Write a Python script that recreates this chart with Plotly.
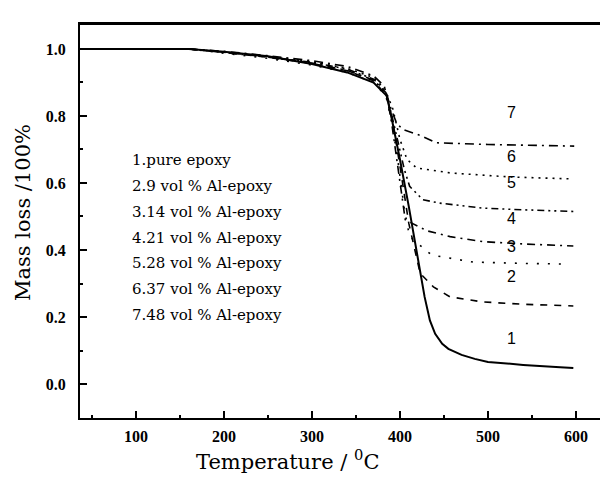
import plotly.graph_objects as go

# ---- data (Temperature in degC, mass fraction) ----
t1 = [36, 100, 160, 200, 250, 300, 340, 370, 385, 390, 395, 400, 410, 420, 428, 434, 440, 448, 455, 470, 485, 500, 540, 582, 597]
m1 = [1.0, 1.0, 1.0, 0.992, 0.978, 0.955, 0.93, 0.90, 0.86, 0.80, 0.74, 0.67, 0.53, 0.38, 0.26, 0.19, 0.15, 0.12, 0.105, 0.087, 0.075, 0.066, 0.057, 0.05, 0.048]

t2 = [160, 200, 250, 300, 340, 370, 385, 392, 400, 410, 423, 438, 457, 494, 540, 597]
m2 = [1.0, 0.99, 0.975, 0.957, 0.935, 0.905, 0.86, 0.78, 0.65, 0.48, 0.33, 0.29, 0.26, 0.245, 0.238, 0.233]

t3 = [160, 200, 250, 300, 340, 370, 384, 391, 398, 405, 411, 436, 483, 540, 590]
m3 = [1.0, 0.988, 0.972, 0.952, 0.93, 0.90, 0.86, 0.78, 0.66, 0.52, 0.44, 0.385, 0.364, 0.36, 0.358]

t4 = [160, 200, 250, 300, 340, 370, 384, 390, 397, 406, 431, 457, 494, 540, 597]
m4 = [1.0, 0.99, 0.976, 0.958, 0.936, 0.907, 0.87, 0.79, 0.66, 0.49, 0.457, 0.44, 0.425, 0.418, 0.412]

t5 = [160, 200, 250, 300, 340, 370, 383, 390, 398, 405, 411, 426, 445, 494, 540, 597]
m5 = [1.0, 0.991, 0.977, 0.96, 0.94, 0.91, 0.875, 0.81, 0.72, 0.64, 0.59, 0.55, 0.54, 0.525, 0.52, 0.515]

t6 = [160, 200, 250, 300, 340, 370, 383, 392, 400, 408, 419, 457, 525, 597]
m6 = [1.0, 0.99, 0.978, 0.962, 0.942, 0.915, 0.88, 0.82, 0.73, 0.67, 0.645, 0.63, 0.618, 0.612]

t7 = [160, 200, 250, 300, 340, 370, 382, 390, 396, 403, 425, 441, 500, 550, 598]
m7 = [1.0, 0.993, 0.98, 0.965, 0.948, 0.92, 0.89, 0.82, 0.78, 0.76, 0.74, 0.72, 0.715, 0.712, 0.71]

curve_labels = ["1", "2", "3", "4", "5", "6", "7"]
label_t = [527, 527, 527, 527, 527, 527, 527]
label_m = [0.137, 0.32, 0.41, 0.495, 0.60, 0.68, 0.81]

legend_lines = [
    "1.pure epoxy",
    "2.9 vol % Al-epoxy",
    "3.14 vol % Al-epoxy",
    "4.21 vol % Al-epoxy",
    "5.28 vol % Al-epoxy",
    "6.37 vol % Al-epoxy",
    "7.48 vol % Al-epoxy",
]
legend_m = [0.669, 0.591, 0.513, 0.436, 0.361, 0.283, 0.206]

x_ticks = [100, 200, 300, 400, 500, 600]
y_ticks = [0.0, 0.2, 0.4, 0.6, 0.8, 1.0]

series = [
    (t1, m1, dict(color="black", width=2, dash="solid")),
    (t2, m2, dict(color="black", width=1.6, dash="7px,7px")),
    (t3, m3, dict(color="black", width=1.6, dash="2px,9px")),
    (t4, m4, dict(color="black", width=1.6, dash="8px,5px,2px,5px")),
    (t5, m5, dict(color="black", width=1.6, dash="7px,4px,2px,4px,2px,4px")),
    (t6, m6, dict(color="black", width=1.6, dash="2px,5px")),
    (t7, m7, dict(color="black", width=1.6, dash="9px,5px,2px,5px")),
]

fig = go.Figure()
for t, m, ln in series:
    fig.add_trace(go.Scatter(x=t, y=m, mode="lines", line=ln, showlegend=False, hoverinfo="skip"))

serif = "Liberation Serif"
wide_serif = "DejaVu Serif"
for lab, lt, lm in zip(curve_labels, label_t, label_m):
    fig.add_annotation(x=lt, y=lm, text=lab, showarrow=False, xanchor="center",
                       font=dict(family="Liberation Sans", size=16, color="black"))

for txt, lm in zip(legend_lines, legend_m):
    fig.add_annotation(x=93, y=lm, text=txt, showarrow=False, xanchor="left",
                       font=dict(family=wide_serif, size=15, color="black"))

# The page body adds an 8px offset; figure is 600x469, plot area x 72..600, y 16..410
PW, PH = 528, 394
fig.add_annotation(xref="paper", yref="paper", x=(279 - 72) / PW, y=(410 - 452) / PH,
                   text="Temperature / <sup>0</sup>C", showarrow=False, xanchor="center",
                   font=dict(family=wide_serif, size=21, color="black"), yanchor="middle")
fig.add_annotation(xref="paper", yref="paper", x=(15 - 72) / PW, y=(410 - 205) / PH,
                   text="Mass loss /100%", showarrow=False, textangle=-90,
                   xanchor="center", yanchor="middle",
                   font=dict(family=wide_serif, size=21, color="black"))

fig.add_shape(type="line", xref="paper", yref="paper", x0=0, x1=1, y0=1, y1=1,
              line=dict(color="black", width=2))

fig.update_layout(
    width=600, height=469,
    margin=dict(l=72, r=0, t=16, b=59),
    plot_bgcolor="white", paper_bgcolor="white",
)
fig.update_xaxes(
    range=[36.4, 636.4], tickmode="array", tickvals=x_ticks, ticktext=[str(v) for v in x_ticks],
    ticks="inside", ticklen=7, tickwidth=2, tickcolor="black",
    minor=dict(tickvals=[50, 150, 250, 350, 450, 550], ticks="inside", ticklen=3, tickwidth=2, tickcolor="black"),
    showline=True, linecolor="black", linewidth=2, mirror=True,
    showgrid=False, zeroline=False,
    tickfont=dict(family=serif, size=16, color="black", weight="bold"),
    ticklabelstandoff=3,
)
fig.update_yaxes(
    range=[-0.1015, 1.0746], tickmode="array", tickvals=y_ticks, ticktext=["%.1f" % v for v in y_ticks],
    ticks="inside", ticklen=7, tickwidth=2, tickcolor="black",
    minor=dict(tickvals=[0.1, 0.3, 0.5, 0.7, 0.9], ticks="inside", ticklen=3, tickwidth=2, tickcolor="black"),
    showline=True, linecolor="black", linewidth=2, mirror=False,
    showgrid=False, zeroline=False,
    tickfont=dict(family=serif, size=16, color="black", weight="bold"),
    ticklabelstandoff=9,
)

fig.write_html("out.html")
